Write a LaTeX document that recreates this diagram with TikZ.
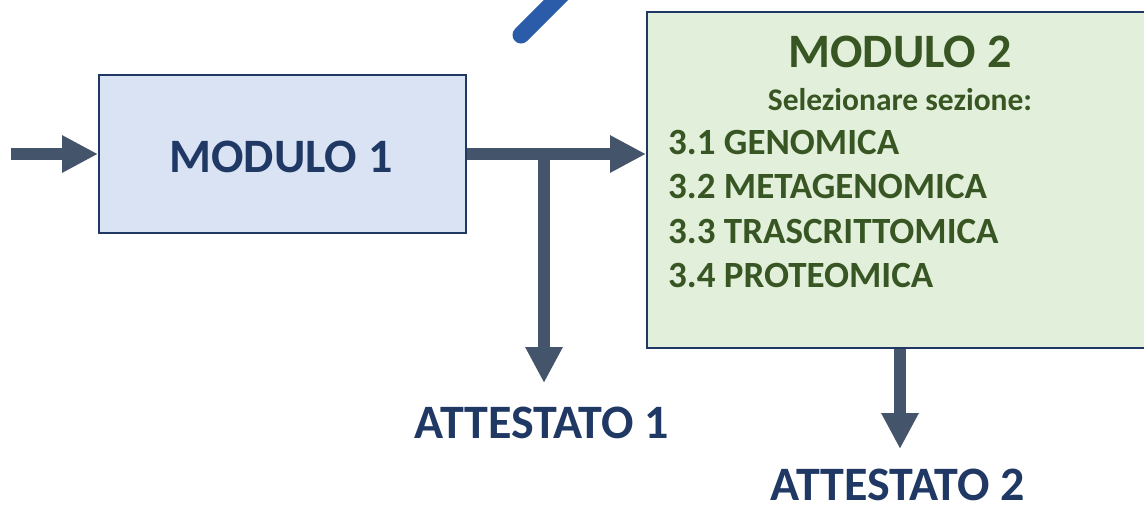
\documentclass[tikz,border=0pt]{standalone}
\usepackage{fontspec}
\setmainfont{Carlito}
\usetikzlibrary{arrows.meta}
\definecolor{navy}{RGB}{31,56,100}
\definecolor{arrowgray}{RGB}{68,84,106}
\definecolor{fillblue}{RGB}{218,227,243}
\definecolor{fillgreen}{RGB}{226,239,218}
\definecolor{darkgreen}{RGB}{56,86,35}
\definecolor{strokeblue}{RGB}{42,92,170}
\tikzset{
  modbox/.style={draw=navy, line width=2pt, inner sep=0pt},
  flow/.style={draw=arrowgray, line width=12pt, -{Triangle[length=36pt,width=35pt]}},
  bigtxt/.style={font=\bfseries\fontsize{48}{56}\selectfont, inner sep=0pt},
  listtxt/.style={font=\bfseries\fontsize{37}{44}\selectfont, inner sep=0pt, text=darkgreen, anchor=base west},
}
\begin{document}
\begin{tikzpicture}[x=1pt,y=-1pt]
\useasboundingbox (0,0) rectangle (1144,507);
\fill[white] (0,0) rectangle (1144,507);
% blue stroke at top
\draw[strokeblue, line width=17pt, line cap=round] (521,35) -- (580,-24);
% boxes
\node[modbox, fill=fillblue, minimum width=367pt, minimum height=158pt] (m1) at (282.5,154) {};
\node[modbox, fill=fillgreen, minimum width=506pt, minimum height=336pt] (m2) at (900,180) {};
% texts
\node[bigtxt, text=navy, anchor=base] (t1) at (281,172) {MODULO 1};
\node[bigtxt, text=darkgreen, anchor=base] (t2) at (900,67) {MODULO 2};
\node[font=\bfseries\fontsize{31.5}{38}\selectfont, inner sep=0pt, text=darkgreen, anchor=base] (sel) at (900,110) {Selezionare sezione:};
\node[listtxt] (l1) at (668,154) {3.1 GENOMICA};
\node[listtxt] (l2) at (668,198) {3.2 METAGENOMICA};
\node[listtxt] (l3) at (668,243) {3.3 TRASCRITTOMICA};
\node[listtxt] (l4) at (668,287) {3.4 PROTEOMICA};
\node[bigtxt, text=navy, anchor=base] (a1) at (542,438) {ATTESTATO 1};
\node[bigtxt, text=navy, anchor=base] (a2) at (898,500) {ATTESTATO 2};
% connectors
\coordinate (in) at (11,154);
\coordinate (j) at (544,154);
\coordinate (a1tip) at (544,383);
\coordinate (a2tip) at (900,449);
\draw[flow] (in) -- (m1.west);
\draw[flow] (m1.east) -- (m1.east -| m2.west);
\draw[flow] ([yshift=-6pt]j) -- (a1tip);
\draw[flow] (m2.south -| a2tip) -- (a2tip);
\end{tikzpicture}
\end{document}
